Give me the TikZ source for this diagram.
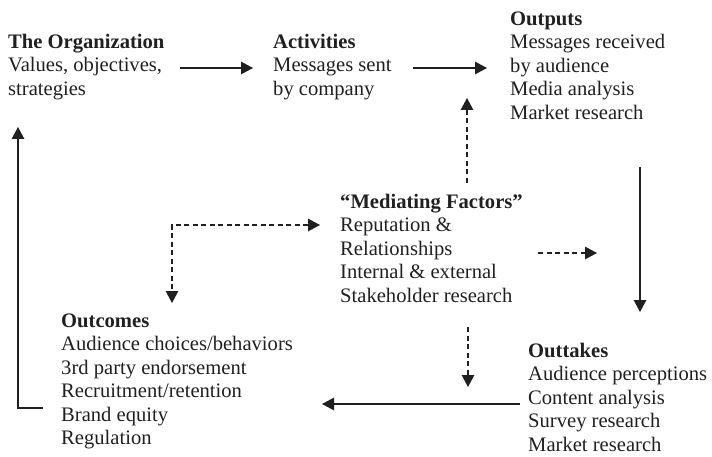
\documentclass[tikz,border=0pt]{standalone}
\usepackage{fontspec}
\setmainfont{Liberation Serif}
\usetikzlibrary{arrows.meta}
\definecolor{ink}{rgb}{0.13,0.12,0.12}
\begin{document}
\begin{tikzpicture}[x=1pt,y=-1pt,
  block/.style={anchor=north west,align=left,inner sep=0pt,text=ink,
    font=\fontsize{20.6}{23.5}\selectfont},
  flow/.style={draw=ink,line width=1.3pt,-{Triangle[length=12pt,width=12.5pt]}},
  link/.style={flow,dash pattern=on 5pt off 3.5pt},
  twoway/.style={link,{Triangle[length=12pt,width=12.5pt]}-{Triangle[length=12pt,width=12.5pt]}}]
\useasboundingbox (0,0) rectangle (712,457);

% stages of the model (a strut on the first line fixes each block's top)
\node[block] (org) at (8,31.5) {\strut\textbf{The Organization}\\Values, objectives,\\strategies};
\node[block] (act) at (273,31.5) {\strut\textbf{Activities}\\Messages sent\\by company};
\node[block] (out) at (510,8.5) {\strut\textbf{Outputs}\\Messages received\\by audience\\Media analysis\\Market research};
\node[block] (med) at (340,191.5) {\strut\textbf{“Mediating Factors”}\\Reputation \&\\Relationships\\Internal \& external\\Stakeholder research};
\node[block] (come) at (61,310.5) {\strut\textbf{Outcomes}\\Audience choices/behaviors\\3rd party endorsement\\Recruitment/retention\\Brand equity\\Regulation};
\node[block] (take) at (528,340.5) {\strut\textbf{Outtakes}\\Audience perceptions\\Content analysis\\Survey research\\Market research};

% connector end points
\coordinate (orgR) at (180,68);
\coordinate (actL) at (253,68);
\coordinate (actR) at (413,68);
\coordinate (outL) at (487,68);
\coordinate (outB) at (640,167);
\coordinate (takeT) at (640,312);
\coordinate (medT) at (467,183);
\coordinate (outD) at (467,98);
\coordinate (medR) at (538,253);
\coordinate (medRR) at (597,253);
\coordinate (medL) at (320,225);
\coordinate (corner) at (172,225);
\coordinate (comeT) at (172,303);
\coordinate (medB) at (468,327);
\coordinate (medBB) at (468,387);
\coordinate (takeL) at (520,404);
\coordinate (comeR) at (322,404);
\coordinate (comeL) at (43,408);
\coordinate (fbk) at (18,408);
\coordinate (orgB) at (18,127);

% main cycle
\draw[flow] (orgR) -- (actL);
\draw[flow] (actR) -- (outL);
\draw[flow] (outB) -- (takeT);
\draw[flow] (takeL) -- (comeR);
\draw[flow] (comeL) -- (fbk) -- (orgB);

% mediating factors
\draw[link] (medT) -- (outD);
\draw[link] (medR) -- (medRR);
\draw[link] (medB) -- (medBB);
\draw[twoway] (medL) -- (corner) -- (comeT);
\end{tikzpicture}
\end{document}
